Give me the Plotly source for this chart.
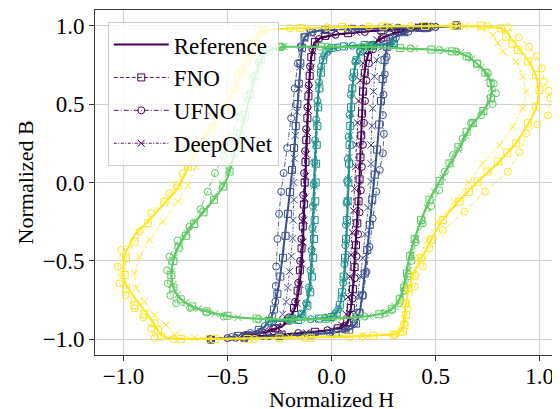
import plotly.graph_objects as go

# ---------------- data (Normalized H, Normalized B) ----------------
COLORS = ["#440154", "#3b528b", "#21918c", "#5ec962", "#fde725"]
SERIES_NAMES = ["Reference", "FNO", "UFNO", "DeepONet"]
X_TICKS = [-1.0, -0.5, 0.0, 0.5, 1.0]
X_TICK_TEXT = ["\u22121.0", "\u22120.5", "0.0", "0.5", "1.0"]
Y_TICKS = [-1.0, -0.5, 0.0, 0.5, 1.0]
Y_TICK_TEXT = ["\u22121.0", "\u22120.5", "0.0", "0.5", "1.0"]
X_LABEL = "Normalized H"
Y_LABEL = "Normalized B"

# ---- loop 1 (purple) ----
PURPLE_REF = [(0.60,1.00),(0.45,0.99),(0.30,0.977),(0.15,0.962),(0.03,0.945),(-0.05,0.925),(-0.083,0.89),(-0.098,0.80),(-0.106,0.66),(-0.113,0.47),(-0.119,0.25),(-0.125,0.0),(-0.131,-0.2),(-0.137,-0.38),(-0.145,-0.55),(-0.156,-0.68),(-0.172,-0.79),(-0.197,-0.87),(-0.24,-0.92),(-0.32,-0.957),(-0.45,-0.985),(-0.58,-1.0),
              (-0.45,-0.99),(-0.30,-0.977),(-0.15,-0.962),(-0.03,-0.945),(0.05,-0.928),(0.078,-0.895),(0.094,-0.80),(0.104,-0.65),(0.113,-0.45),(0.124,-0.2),(0.134,0.0),(0.141,0.25),(0.147,0.47),(0.154,0.64),(0.164,0.76),(0.183,0.845),(0.212,0.895),(0.26,0.933),(0.33,0.963),(0.45,0.988),(0.60,1.00)]
PURPLE_FNO = [(0.60,1.00),(0.42,0.987),(0.24,0.97),(0.08,0.952),(-0.03,0.935),(-0.08,0.895),(-0.097,0.80),(-0.105,0.68),(-0.111,0.55),(-0.116,0.41),(-0.121,0.27),(-0.125,0.13),(-0.129,0.0),(-0.133,-0.14),(-0.138,-0.28),(-0.144,-0.42),(-0.152,-0.56),(-0.163,-0.69),(-0.18,-0.80),(-0.21,-0.88),(-0.27,-0.93),(-0.40,-0.975),(-0.58,-1.0),
              (-0.42,-0.987),(-0.24,-0.97),(-0.08,-0.952),(0.03,-0.93),(0.075,-0.89),(0.093,-0.80),(0.103,-0.68),(0.111,-0.54),(0.118,-0.40),(0.124,-0.26),(0.13,-0.12),(0.135,0.02),(0.139,0.16),(0.143,0.30),(0.147,0.44),(0.152,0.58),(0.16,0.70),(0.175,0.80),(0.20,0.875),(0.25,0.925),(0.34,0.965),(0.46,0.99),(0.60,1.00)]
PURPLE_UFNO = [(0.60,1.00),(0.50,0.992),(0.33,0.978),(0.16,0.96),(0.02,0.942),(-0.06,0.915),(-0.092,0.85),(-0.103,0.74),(-0.11,0.62),(-0.116,0.48),(-0.122,0.34),(-0.127,0.2),(-0.132,0.06),(-0.136,-0.08),(-0.14,-0.22),(-0.145,-0.36),(-0.151,-0.5),(-0.16,-0.64),(-0.175,-0.76),(-0.205,-0.86),(-0.28,-0.93),(-0.42,-0.975),(-0.58,-1.0),
               (-0.50,-0.992),(-0.33,-0.978),(-0.16,-0.96),(-0.02,-0.942),(0.06,-0.915),(0.09,-0.85),(0.102,-0.74),(0.112,-0.61),(0.12,-0.47),(0.128,-0.33),(0.135,-0.19),(0.141,-0.05),(0.146,0.1),(0.151,0.24),(0.156,0.38),(0.161,0.52),(0.168,0.65),(0.18,0.76),(0.20,0.85),(0.24,0.915),(0.32,0.96),(0.44,0.985),(0.60,1.00)]
PURPLE_DEEPONET = [(0.60,1.00),(0.45,0.99),(0.28,0.975),(0.12,0.958),(0.0,0.94),(-0.065,0.91),(-0.09,0.84),(-0.1,0.73),(-0.106,0.6),(-0.111,0.46),(-0.116,0.32),(-0.12,0.18),(-0.124,0.04),(-0.128,-0.1),(-0.132,-0.24),(-0.137,-0.38),(-0.143,-0.52),(-0.152,-0.65),(-0.166,-0.77),(-0.195,-0.865),(-0.26,-0.925),(-0.39,-0.97),(-0.58,-1.0),
                   (-0.45,-0.99),(-0.28,-0.975),(-0.12,-0.958),(0.0,-0.94),(0.05,-0.91),(0.07,-0.84),(0.08,-0.73),(0.088,-0.6),(0.094,-0.46),(0.1,-0.32),(0.106,-0.18),(0.111,-0.04),(0.116,0.1),(0.12,0.24),(0.125,0.38),(0.13,0.52),(0.138,0.65),(0.152,0.76),(0.175,0.845),(0.22,0.91),(0.30,0.955),(0.43,0.985),(0.60,1.00)]

# ---- loop 2 (blue) ----
BLUE_REF = [(0.60,1.00),(0.40,0.992),(0.20,0.985),(0.05,0.978),(-0.06,0.97),(-0.105,0.955),(-0.128,0.93),(-0.14,0.88),(-0.148,0.78),(-0.155,0.63),(-0.163,0.47),(-0.172,0.30),(-0.183,0.14),(-0.195,0.0),(-0.207,-0.15),(-0.22,-0.31),(-0.232,-0.45),(-0.245,-0.58),(-0.258,-0.69),(-0.272,-0.79),(-0.29,-0.865),(-0.32,-0.92),(-0.38,-0.96),(-0.47,-0.985),(-0.58,-1.0),
            (-0.45,-0.99),(-0.30,-0.982),(-0.15,-0.973),(-0.02,-0.962),(0.06,-0.95),(0.10,-0.93),(0.122,-0.89),(0.137,-0.82),(0.15,-0.70),(0.163,-0.55),(0.176,-0.38),(0.19,-0.19),(0.205,0.0),(0.218,0.2),(0.23,0.38),(0.24,0.55),(0.248,0.70),(0.256,0.80),(0.27,0.875),(0.30,0.925),(0.36,0.962),(0.46,0.985),(0.60,1.00)]
BLUE_FNO = [(0.60,1.0),(0.44,0.993),(0.27,0.987),(0.10,0.98),(-0.03,0.972),(-0.1,0.958),(-0.13,0.925),(-0.142,0.86),(-0.15,0.76),(-0.157,0.63),(-0.164,0.5),(-0.172,0.36),(-0.18,0.22),(-0.19,0.08),(-0.2,-0.06),(-0.21,-0.2),(-0.221,-0.34),(-0.233,-0.48),(-0.246,-0.6),(-0.26,-0.71),(-0.277,-0.81),(-0.3,-0.885),(-0.35,-0.94),(-0.45,-0.978),(-0.58,-1.0),
            (-0.42,-0.99),(-0.25,-0.98),(-0.1,-0.97),(0.02,-0.958),(0.085,-0.94),(0.118,-0.9),(0.135,-0.83),(0.148,-0.72),(0.16,-0.58),(0.172,-0.43),(0.184,-0.27),(0.196,-0.11),(0.208,0.05),(0.219,0.21),(0.229,0.37),(0.238,0.52),(0.246,0.66),(0.255,0.78),(0.268,0.865),(0.295,0.92),(0.35,0.958),(0.45,0.984),(0.60,1.0)]
BLUE_UFNO = [(0.60,1.0),(0.48,0.994),(0.32,0.988),(0.15,0.981),(0.0,0.973),(-0.09,0.96),(-0.128,0.93),(-0.148,0.87),(-0.162,0.76),(-0.177,0.6),(-0.194,0.41),(-0.213,0.22),(-0.23,0.06),(-0.242,-0.058),(-0.252,-0.2),(-0.26,-0.36),(-0.266,-0.536),(-0.268,-0.66),(-0.27,-0.76),(-0.285,-0.85),(-0.32,-0.915),(-0.39,-0.96),(-0.48,-0.985),(-0.58,-1.0),
             (-0.46,-0.99),(-0.3,-0.98),(-0.14,-0.97),(-0.01,-0.958),(0.07,-0.94),(0.11,-0.9),(0.135,-0.83),(0.152,-0.72),(0.168,-0.57),(0.182,-0.41),(0.198,-0.23),(0.215,-0.058),(0.232,0.08),(0.247,0.186),(0.252,0.31),(0.247,0.43),(0.25,0.56),(0.256,0.69),(0.265,0.8),(0.28,0.875),(0.31,0.925),(0.37,0.962),(0.47,0.985),(0.60,1.0)]
BLUE_DEEPONET = [(0.60,1.0),(0.42,0.992),(0.24,0.985),(0.08,0.977),(-0.04,0.968),(-0.105,0.952),(-0.13,0.92),(-0.142,0.85),(-0.15,0.74),(-0.158,0.6),(-0.167,0.45),(-0.174,0.3),(-0.178,0.154),(-0.181,0.0),(-0.181,-0.11),(-0.184,-0.24),(-0.186,-0.356),(-0.193,-0.47),(-0.202,-0.568),(-0.21,-0.67),(-0.218,-0.76),(-0.235,-0.84),(-0.27,-0.9),(-0.34,-0.95),(-0.45,-0.98),(-0.58,-1.0),
                 (-0.44,-0.99),(-0.28,-0.98),(-0.12,-0.97),(0.0,-0.958),(0.07,-0.94),(0.1,-0.9),(0.115,-0.83),(0.127,-0.72),(0.14,-0.6),(0.15,-0.483),(0.162,-0.33),(0.175,-0.16),(0.19,0.006),(0.19,0.12),(0.19,0.239),(0.194,0.36),(0.198,0.473),(0.202,0.58),(0.206,0.675),(0.218,0.78),(0.24,0.86),(0.28,0.915),(0.35,0.955),(0.45,0.982),(0.60,1.0)]

# ---- loop 3 (teal) ----
TEAL_REF = [(0.30,0.885),(0.20,0.88),(0.12,0.874),(0.06,0.868),(0.02,0.86),(-0.01,0.85),(-0.03,0.82),(-0.045,0.76),(-0.056,0.67),(-0.065,0.55),(-0.071,0.42),(-0.076,0.28),(-0.08,0.14),(-0.083,0.0),(-0.086,-0.15),(-0.089,-0.3),(-0.093,-0.45),(-0.099,-0.58),(-0.107,-0.69),(-0.12,-0.78),(-0.14,-0.84),(-0.18,-0.868),(-0.24,-0.878),(-0.30,-0.885),
            (-0.20,-0.88),(-0.12,-0.874),(-0.06,-0.868),(-0.02,-0.86),(0.01,-0.85),(0.03,-0.82),(0.045,-0.76),(0.056,-0.67),(0.065,-0.55),(0.07,-0.42),(0.074,-0.28),(0.077,-0.14),(0.08,0.0),(0.084,0.15),(0.088,0.3),(0.093,0.45),(0.099,0.58),(0.107,0.69),(0.12,0.78),(0.14,0.84),(0.18,0.868),(0.24,0.878),(0.30,0.885)]
TEAL_FNO = [(0.30,0.885),(0.16,0.877),(0.06,0.868),(0.0,0.858),(-0.025,0.835),(-0.04,0.78),(-0.05,0.7),(-0.058,0.6),(-0.064,0.48),(-0.068,0.36),(-0.071,0.24),(-0.074,0.12),(-0.076,0.0),(-0.078,-0.12),(-0.081,-0.24),(-0.084,-0.36),(-0.088,-0.48),(-0.094,-0.6),(-0.102,-0.7),(-0.116,-0.785),(-0.14,-0.84),(-0.19,-0.87),(-0.30,-0.885),
            (-0.16,-0.877),(-0.06,-0.868),(0.0,-0.858),(0.025,-0.835),(0.04,-0.78),(0.05,-0.7),(0.058,-0.6),(0.065,-0.48),(0.07,-0.36),(0.074,-0.24),(0.078,-0.12),(0.081,0.0),(0.084,0.12),(0.087,0.24),(0.09,0.36),(0.094,0.48),(0.1,0.6),(0.108,0.7),(0.12,0.78),(0.14,0.835),(0.19,0.868),(0.30,0.885)]
TEAL_UFNO = [(0.30,0.885),(0.2,0.88),(0.1,0.872),(0.03,0.862),(-0.012,0.848),(-0.035,0.81),(-0.05,0.74),(-0.06,0.64),(-0.068,0.52),(-0.074,0.4),(-0.079,0.27),(-0.083,0.13),(-0.086,-0.01),(-0.089,-0.15),(-0.092,-0.29),(-0.096,-0.43),(-0.101,-0.56),(-0.109,-0.67),(-0.122,-0.77),(-0.145,-0.835),(-0.2,-0.87),(-0.30,-0.885),
             (-0.2,-0.88),(-0.1,-0.872),(-0.03,-0.862),(0.01,-0.848),(0.032,-0.81),(0.047,-0.74),(0.056,-0.64),(0.062,-0.52),(0.066,-0.4),(0.069,-0.27),(0.072,-0.13),(0.075,0.01),(0.078,0.15),(0.082,0.29),(0.087,0.43),(0.093,0.56),(0.101,0.67),(0.114,0.77),(0.137,0.835),(0.19,0.87),(0.30,0.885)]
TEAL_DEEPONET = [(0.30,0.885),(0.18,0.878),(0.08,0.87),(0.015,0.86),(-0.018,0.842),(-0.038,0.8),(-0.05,0.72),(-0.06,0.62),(-0.067,0.5),(-0.072,0.38),(-0.076,0.25),(-0.079,0.12),(-0.082,-0.02),(-0.085,-0.16),(-0.088,-0.3),(-0.092,-0.44),(-0.097,-0.57),(-0.105,-0.68),(-0.118,-0.775),(-0.14,-0.835),(-0.19,-0.868),(-0.30,-0.885),
                 (-0.18,-0.878),(-0.08,-0.87),(-0.015,-0.86),(0.018,-0.842),(0.038,-0.8),(0.05,-0.72),(0.06,-0.62),(0.067,-0.5),(0.072,-0.38),(0.076,-0.25),(0.079,-0.12),(0.082,0.02),(0.085,0.16),(0.088,0.3),(0.092,0.44),(0.097,0.57),(0.105,0.68),(0.118,0.775),(0.14,0.835),(0.19,0.868),(0.30,0.885)]

# ---- loop 4 (green) ----
GREEN_REF = [(-0.22,0.866),(-0.1,0.868),(0.05,0.866),(0.2,0.862),(0.35,0.856),(0.47,0.848),(0.56,0.84),(0.607,0.832),(0.65,0.808),(0.688,0.771),(0.722,0.73),(0.75,0.685),(0.767,0.635),(0.772,0.58),(0.762,0.526),(0.735,0.465),(0.703,0.41),(0.671,0.362),(0.64,0.285),(0.607,0.197),(0.567,0.11),(0.527,0.027),(0.497,-0.042),(0.468,-0.115),(0.44,-0.205),(0.415,-0.295),(0.393,-0.385),(0.375,-0.465),(0.362,-0.555),(0.35,-0.645),(0.335,-0.715),(0.317,-0.77),(0.29,-0.808),(0.254,-0.833),(0.2,-0.848),(0.15,-0.856),(0.05,-0.865),(-0.1,-0.873),(-0.25,-0.873),(-0.4,-0.866),(-0.48,-0.856),(-0.546,-0.84),(-0.61,-0.818),(-0.659,-0.797),(-0.7,-0.77),(-0.731,-0.738),(-0.752,-0.70),(-0.765,-0.653),(-0.77,-0.6),(-0.766,-0.54),(-0.755,-0.462),(-0.735,-0.40),(-0.712,-0.35),(-0.69,-0.305),(-0.66,-0.255),(-0.625,-0.205),(-0.59,-0.15),(-0.555,-0.09),(-0.522,-0.03),(-0.5,0.03),(-0.483,0.1),(-0.462,0.2),(-0.44,0.3),(-0.418,0.41),(-0.395,0.53),(-0.37,0.66),(-0.345,0.76),(-0.322,0.825),(-0.29,0.852),(-0.22,0.866)]
GREEN_FNO = [(-0.25,0.865),(-0.05,0.867),(0.15,0.863),(0.33,0.857),(0.48,0.848),(0.58,0.836),(0.65,0.805),(0.70,0.757),(0.74,0.70),(0.765,0.635),(0.767,0.537),(0.73,0.455),(0.679,0.38),(0.65,0.324),(0.61,0.225),(0.567,0.122),(0.52,0.01),(0.471,-0.11),(0.43,-0.24),(0.4,-0.36),(0.378,-0.47),(0.363,-0.58),(0.35,-0.67),(0.328,-0.745),(0.29,-0.805),(0.23,-0.84),(0.12,-0.86),(-0.03,-0.87),(-0.2,-0.874),(-0.36,-0.868),(-0.5,-0.85),(-0.6,-0.822),(-0.67,-0.79),(-0.725,-0.745),(-0.76,-0.67),(-0.77,-0.59),(-0.76,-0.5),(-0.735,-0.415),(-0.7,-0.34),(-0.66,-0.265),(-0.615,-0.19),(-0.565,-0.11),(-0.52,-0.025),(-0.49,0.07),(-0.465,0.19),(-0.44,0.31),(-0.415,0.43),(-0.39,0.56),(-0.365,0.68),(-0.338,0.785),(-0.3,0.845),(-0.25,0.865)]
GREEN_UFNO = [(-0.24,0.865),(-0.02,0.866),(0.18,0.862),(0.38,0.855),(0.52,0.845),(0.6,0.835),(0.66,0.8),(0.70,0.76),(0.751,0.70),(0.78,0.63),(0.791,0.569),(0.775,0.5),(0.72,0.43),(0.671,0.377),(0.63,0.28),(0.583,0.175),(0.545,0.07),(0.519,-0.048),(0.48,-0.15),(0.439,-0.26),(0.405,-0.38),(0.385,-0.5),(0.367,-0.6),(0.35,-0.69),(0.327,-0.77),(0.29,-0.815),(0.254,-0.834),(0.16,-0.855),(0.0,-0.868),(-0.178,-0.877),(-0.35,-0.872),(-0.518,-0.855),(-0.6,-0.83),(-0.68,-0.8),(-0.747,-0.77),(-0.775,-0.72),(-0.787,-0.643),(-0.79,-0.56),(-0.779,-0.473),(-0.74,-0.37),(-0.683,-0.281),(-0.63,-0.17),(-0.595,-0.058),(-0.56,0.06),(-0.52,0.17),(-0.48,0.29),(-0.445,0.42),(-0.41,0.55),(-0.38,0.67),(-0.35,0.77),(-0.32,0.835),(-0.24,0.865)]
GREEN_DEEPONET = [(-0.23,0.866),(0.0,0.866),(0.2,0.862),(0.4,0.853),(0.54,0.842),(0.62,0.828),(0.675,0.79),(0.72,0.735),(0.755,0.67),(0.768,0.6),(0.76,0.53),(0.725,0.455),(0.68,0.38),(0.645,0.3),(0.61,0.21),(0.575,0.12),(0.535,0.03),(0.495,-0.06),(0.46,-0.16),(0.43,-0.26),(0.405,-0.36),(0.385,-0.46),(0.37,-0.56),(0.355,-0.65),(0.335,-0.73),(0.305,-0.79),(0.26,-0.83),(0.18,-0.852),(0.05,-0.866),(-0.12,-0.873),(-0.3,-0.872),(-0.45,-0.86),(-0.56,-0.836),(-0.64,-0.805),(-0.7,-0.765),(-0.74,-0.715),(-0.762,-0.65),(-0.768,-0.57),(-0.755,-0.48),(-0.728,-0.4),(-0.695,-0.325),(-0.655,-0.25),(-0.61,-0.17),(-0.565,-0.09),(-0.525,-0.01),(-0.495,0.08),(-0.47,0.18),(-0.445,0.29),(-0.42,0.41),(-0.395,0.53),(-0.37,0.65),(-0.345,0.75),(-0.318,0.825),(-0.23,0.866)]

# ---- loop 5 (yellow) ----
YELLOW_REF = [(-0.30,0.978),(-0.15,0.985),(0.0,0.99),(0.2,0.995),(0.4,0.998),(0.55,0.998),(0.657,0.998),(0.74,0.995),(0.815,0.983),(0.845,0.955),(0.863,0.919),(0.895,0.866),(0.928,0.813),(0.955,0.76),(0.976,0.707),(0.99,0.645),(0.995,0.58),(0.992,0.525),(0.984,0.473),(0.966,0.42),(0.944,0.367),(0.913,0.30),(0.88,0.239),(0.84,0.18),(0.80,0.122),(0.752,0.063),(0.703,0.006),(0.655,-0.058),(0.607,-0.122),(0.567,-0.185),(0.527,-0.249),(0.478,-0.37),(0.431,-0.483),(0.39,-0.59),(0.372,-0.68),(0.359,-0.76),(0.35,-0.85),(0.343,-0.93),(0.325,-0.958),(0.303,-0.968),(0.2,-0.976),(0.078,-0.983),(-0.114,-0.989),(-0.35,-0.995),(-0.595,-0.998),(-0.723,-0.998),(-0.79,-0.99),(-0.819,-0.972),(-0.84,-0.935),(-0.859,-0.887),(-0.895,-0.82),(-0.931,-0.76),(-0.962,-0.705),(-0.988,-0.653),(-1.0,-0.61),(-1.003,-0.568),(-0.995,-0.462),(-0.972,-0.40),(-0.947,-0.335),(-0.915,-0.29),(-0.883,-0.249),(-0.84,-0.185),(-0.795,-0.122),(-0.755,-0.065),(-0.728,-0.01),(-0.705,0.05),(-0.68,0.12),(-0.643,0.218),(-0.58,0.35),(-0.514,0.473),(-0.47,0.58),(-0.435,0.685),(-0.40,0.80),(-0.37,0.898),(-0.345,0.945),(-0.322,0.968),(-0.30,0.978)]
YELLOW_FNO = [(-0.33,0.97),(-0.15,0.985),(0.05,0.992),(0.25,0.996),(0.45,0.998),(0.6,1.0),(0.719,1.0),(0.815,0.983),(0.839,0.93),(0.87,0.885),(0.896,0.845),(0.944,0.771),(0.984,0.685),(1.0,0.59),(0.984,0.484),(0.944,0.377),(0.888,0.25),(0.845,0.19),(0.80,0.133),(0.75,0.07),(0.703,0.006),(0.66,-0.06),(0.615,-0.122),(0.535,-0.239),(0.479,-0.366),(0.431,-0.483),(0.399,-0.594),(0.37,-0.675),(0.354,-0.77),(0.359,-0.845),(0.351,-0.909),(0.343,-0.951),(0.3,-0.97),(0.2,-0.977),(0.086,-0.983),(-0.1,-0.99),(-0.25,-0.993),(-0.403,-0.998),(-0.56,-0.998),(-0.723,-0.998),(-0.819,-0.983),(-0.834,-0.94),(-0.851,-0.898),(-0.9,-0.84),(-0.947,-0.781),(-0.988,-0.675),(-0.995,-0.59),(-0.988,-0.483),(-0.947,-0.377),(-0.883,-0.26),(-0.803,-0.122),(-0.74,-0.02),(-0.69,0.1),(-0.64,0.22),(-0.575,0.355),(-0.51,0.48),(-0.465,0.6),(-0.43,0.71),(-0.395,0.82),(-0.365,0.91),(-0.33,0.97)]
YELLOW_UFNO = [(-0.35,0.97),(-0.2,0.983),(-0.02,0.99),(0.18,0.995),(0.38,0.997),(0.58,0.998),(0.75,0.998),(0.848,0.99),(0.90,0.925),(0.95,0.865),(0.984,0.805),(1.011,0.728),(1.021,0.643),(1.045,0.585),(1.053,0.537),(1.04,0.427),(0.99,0.37),(0.936,0.314),(0.904,0.193),(0.848,0.069),(0.738,-0.058),(0.639,-0.186),(0.535,-0.303),(0.471,-0.42),(0.439,-0.536),(0.399,-0.664),(0.367,-0.802),(0.351,-0.9),(0.33,-0.955),(0.306,-0.972),(0.15,-0.983),(-0.13,-0.993),(-0.37,-0.997),(-0.595,-0.998),(-0.76,-0.998),(-0.851,-0.993),(-0.867,-0.93),(-0.905,-0.86),(-0.947,-0.802),(-0.99,-0.72),(-1.019,-0.643),(-1.027,-0.536),(-1.011,-0.43),(-0.923,-0.313),(-0.867,-0.196),(-0.779,-0.069),(-0.715,0.059),(-0.665,0.19),(-0.6,0.33),(-0.535,0.46),(-0.49,0.575),(-0.45,0.69),(-0.415,0.8),(-0.385,0.895),(-0.35,0.97)]
YELLOW_DEEPONET = [(-0.31,0.972),(-0.12,0.985),(0.08,0.992),(0.28,0.996),(0.48,0.998),(0.64,0.996),(0.72,0.985),(0.776,0.94),(0.80,0.89),(0.824,0.835),(0.888,0.771),(0.92,0.675),(0.936,0.58),(0.92,0.473),(0.872,0.356),(0.808,0.239),(0.727,0.122),(0.66,0.0),(0.591,-0.122),(0.511,-0.249),(0.46,-0.37),(0.42,-0.48),(0.39,-0.58),(0.37,-0.68),(0.357,-0.78),(0.35,-0.87),(0.34,-0.94),(0.3,-0.965),(0.15,-0.975),(0.03,-0.975),(-0.2,-0.985),(-0.45,-0.993),(-0.659,-0.989),(-0.755,-0.972),(-0.795,-0.909),(-0.851,-0.845),(-0.899,-0.76),(-0.939,-0.675),(-0.947,-0.579),(-0.923,-0.473),(-0.875,-0.366),(-0.811,-0.249),(-0.739,-0.122),(-0.69,-0.02),(-0.65,0.1),(-0.61,0.22),(-0.55,0.35),(-0.49,0.47),(-0.445,0.585),(-0.41,0.69),(-0.38,0.8),(-0.35,0.9),(-0.31,0.972)]

LOOPS = [
    (PURPLE_REF, PURPLE_FNO, PURPLE_UFNO, PURPLE_DEEPONET),
    (BLUE_REF, BLUE_FNO, BLUE_UFNO, BLUE_DEEPONET),
    (TEAL_REF, TEAL_FNO, TEAL_UFNO, TEAL_DEEPONET),
    (GREEN_REF, GREEN_FNO, GREEN_UFNO, GREEN_DEEPONET),
    (YELLOW_REF, YELLOW_FNO, YELLOW_UFNO, YELLOW_DEEPONET),
]

# ---------------- styles ----------------
FONT = "Liberation Serif"
FS = 23
TITLE_FS = 22
STYLES = [
    dict(mode="lines", dash="solid", width=2.0, symbol=None),
    dict(mode="lines+markers", dash="4px,2px", width=0.9, symbol="square-open"),
    dict(mode="lines+markers", dash="5px,2px,1px,2px", width=0.9, symbol="circle-open"),
    dict(mode="lines+markers", dash="3px,1.5px,1px,1.5px", width=0.9, symbol="x-thin-open"),
]

fig = go.Figure()
for li, (loop, color) in enumerate(zip(LOOPS, COLORS)):
    for si, (series, name, st) in enumerate(zip(loop, SERIES_NAMES, STYLES)):
        hs = [p[0] for p in series]
        bs = [p[1] for p in series]
        kw = dict(
            x=hs, y=bs, mode=st["mode"], name=name,
            legendgroup=name, showlegend=(li == 0),
            line=dict(color=color, width=st["width"], dash=st["dash"]),
            hoverinfo="skip",
        )
        if st["symbol"]:
            kw["marker"] = dict(symbol=st["symbol"], size=7, color=color,
                                line=dict(color=color, width=1.0))
        fig.add_trace(go.Scatter(**kw))

axis_common = dict(
    automargin=False,
    showgrid=True, gridcolor="#d2d2d2", gridwidth=1.3,
    zeroline=False, showline=True, linecolor="#3a3a3a", linewidth=1,
    ticks="outside", ticklen=5, tickwidth=1, tickcolor="#3a3a3a",
    tickfont=dict(family=FONT, size=FS, color="black"),
)
fig.update_layout(
    width=560, height=409,
    margin=dict(l=87, r=0, t=2, b=62, autoexpand=False),
    paper_bgcolor="white", plot_bgcolor="white",
    font=dict(family=FONT, size=FS, color="black"),
    xaxis=dict(range=[-1.137, 1.137], tickvals=X_TICKS, ticktext=X_TICK_TEXT,
               mirror=True, ticklabelstandoff=-5, **axis_common),
    yaxis=dict(range=[-1.1, 1.1], tickvals=Y_TICKS, ticktext=Y_TICK_TEXT,
               **axis_common),
    legend=dict(x=0.027, y=0.965, xanchor="left", yanchor="top",
                bgcolor="rgba(255,255,255,0.8)", bordercolor="#cccccc", borderwidth=1,
                font=dict(family=FONT, size=FS), tracegroupgap=0,
                itemwidth=55),
    showlegend=True,
    annotations=[
        dict(text=X_LABEL, xref="paper", yref="paper", x=0.5, y=-0.130,
             xanchor="center", yanchor="middle", showarrow=False,
             font=dict(family=FONT, size=TITLE_FS, color="black")),
        dict(text=Y_LABEL, xref="paper", yref="paper", x=-0.146, y=0.5,
             xanchor="center", yanchor="middle", showarrow=False, textangle=-90,
             font=dict(family=FONT, size=TITLE_FS, color="black")),
    ],
)

fig.write_html("out.html")
